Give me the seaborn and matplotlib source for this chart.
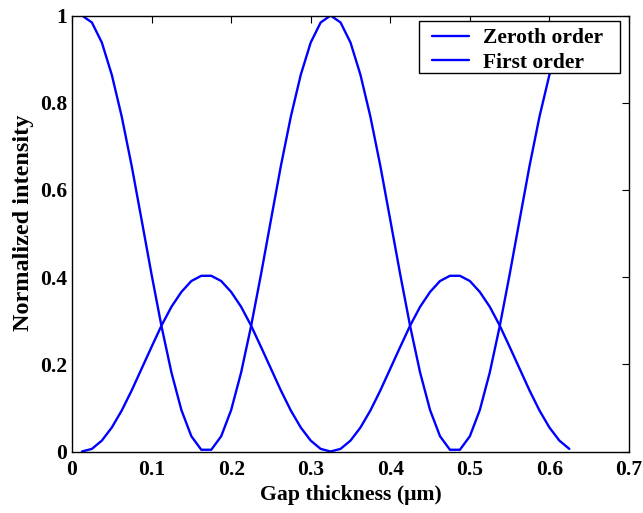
import numpy as np
import pandas as pd
import matplotlib
matplotlib.use("Agg")
import matplotlib.pyplot as plt
from matplotlib.lines import Line2D
from matplotlib.patches import Rectangle
from matplotlib.legend_handler import HandlerLine2D
import seaborn as sns

# x positions (gap thickness, um)
gap = [0.0125 * k for k in range(1, 51)]

zeroth = [1.000, 0.984, 0.938, 0.864, 0.768, 0.655, 0.531, 0.406, 0.287, 0.181,
          0.095, 0.035, 0.004, 0.004, 0.035, 0.095, 0.181, 0.287, 0.406, 0.531,
          0.655, 0.768, 0.864, 0.938, 0.984, 1.000, 0.984, 0.938, 0.864, 0.768,
          0.655, 0.531, 0.406, 0.287, 0.181, 0.095, 0.035, 0.004, 0.004, 0.035,
          0.095, 0.181, 0.287, 0.406, 0.531, 0.655, 0.768, 0.864, 0.938, 0.984]

first = [0.000, 0.006, 0.025, 0.055, 0.094, 0.140, 0.190, 0.240, 0.289, 0.332,
         0.366, 0.391, 0.403, 0.403, 0.391, 0.366, 0.332, 0.289, 0.240, 0.190,
         0.140, 0.094, 0.055, 0.025, 0.006, 0.000, 0.006, 0.025, 0.055, 0.094,
         0.140, 0.190, 0.240, 0.289, 0.332, 0.366, 0.391, 0.403, 0.403, 0.391,
         0.366, 0.332, 0.289, 0.240, 0.190, 0.140, 0.094, 0.055, 0.025, 0.006]

series_names = ["Zeroth order", "First order"]
xticks = [0, 0.1, 0.2, 0.3, 0.4, 0.5, 0.6, 0.7]
xticklabels = ["0", "0.1", "0.2", "0.3", "0.4", "0.5", "0.6", "0.7"]
yticks = [0, 0.2, 0.4, 0.6, 0.8, 1.0]
yticklabels = ["0", "0.2", "0.4", "0.6", "0.8", "1"]

df = pd.DataFrame({
    "gap": gap + gap,
    "value": zeroth + first,
    "series": [series_names[0]] * len(gap) + [series_names[1]] * len(gap),
})

sns.set_theme(style="white")
plt.rcParams["font.family"] = ["Liberation Serif", "DejaVu Serif"]
plt.rcParams["font.weight"] = "bold"
plt.rcParams["text.color"] = "black"
plt.rcParams["axes.labelcolor"] = "black"
plt.rcParams["xtick.color"] = "black"
plt.rcParams["ytick.color"] = "black"

fig = plt.figure(figsize=(6.43, 5.13), dpi=100)
ax_l, ax_r, ax_t, ax_b = 72, 629, 15.5, 451.5
ax = fig.add_axes([ax_l / 643, 1 - ax_b / 513, (ax_r - ax_l) / 643, (ax_b - ax_t) / 513])

sns.lineplot(data=df, x="gap", y="value", hue="series", hue_order=series_names,
             palette=["#0000ff", "#0000ff"], linewidth=1.7, ax=ax, sort=False,
             legend=True)

ax.set_xlim(0, 0.7)
ax.set_ylim(0, 1)
ax.set_xticks(xticks)
ax.set_xticklabels(xticklabels)
ax.set_yticks(yticks)
ax.set_yticklabels(yticklabels)
ax.tick_params(direction="in", top=True, right=True, length=5, width=0.8,
               labelsize=15.5, colors="black")
ax.tick_params(axis="x", pad=6)
ax.tick_params(axis="y", pad=3.5)
for lab in ax.get_xticklabels() + ax.get_yticklabels():
    lab.set_fontweight("bold")
for sp in ax.spines.values():
    sp.set_color("black")
    sp.set_linewidth(1.0)

ax.set_xlabel("Gap thickness (\u03bcm)", fontsize=15.7, fontweight="bold", labelpad=4)
ax.set_ylabel("Normalized intensity", fontsize=17.5, fontweight="bold")
ax.yaxis.set_label_coords(-0.069, 0.525)


class ShortLine(HandlerLine2D):
    def get_xdata(self, legend, xdescent, ydescent, width, height, fontsize):
        xd = np.array([-xdescent + 0.123 * width, -xdescent + width])
        return xd, np.array([-xdescent + 0.6 * width])


# legend frame placed in axes coordinates
fx0 = (419.3 - ax_l) / (ax_r - ax_l)
fx1 = (620 - ax_l) / (ax_r - ax_l)
fy1 = (ax_b - 21) / (ax_b - ax_t)
fy0 = (ax_b - 73.3) / (ax_b - ax_t)
frame = Rectangle((fx0, fy0), fx1 - fx0, fy1 - fy0, transform=ax.transAxes,
                  facecolor="white", edgecolor="black", linewidth=1.0,
                  zorder=4.5, clip_on=False)
ax.add_patch(frame)

leg = ax.legend(loc="upper right", bbox_to_anchor=(fx0, 0, fx1 - fx0, fy1),
                mode="expand", frameon=False, fontsize=15.5,
                borderpad=0.33, handlelength=1.99, handletextpad=0.62,
                labelspacing=0.2, borderaxespad=0.0,
                handler_map={Line2D: ShortLine()})
leg.set_zorder(5)
for t in leg.get_texts():
    t.set_fontweight("bold")
for h in leg.get_lines():
    h.set_linewidth(1.7)

fig.savefig("out.png", dpi=100)
